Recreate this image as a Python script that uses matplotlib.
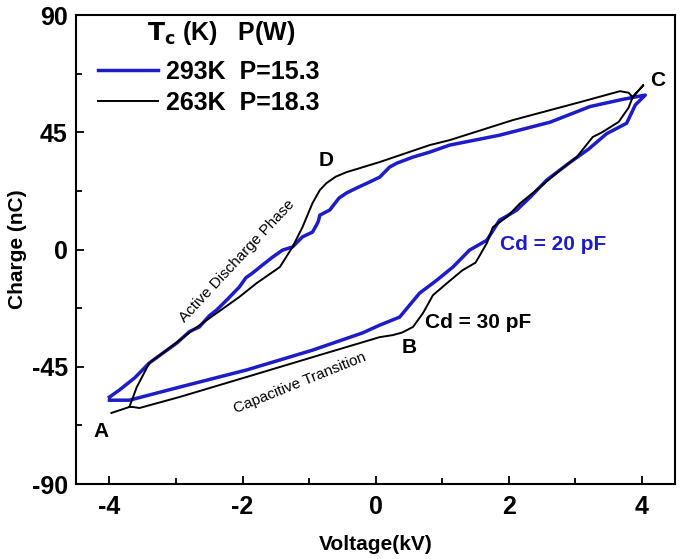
import matplotlib
matplotlib.use("Agg")
import matplotlib.pyplot as plt
from matplotlib.ticker import MultipleLocator

plt.rcParams['font.family'] = ['Liberation Sans', 'DejaVu Sans']
plt.rcParams['font.weight'] = 'bold'
plt.rcParams['axes.unicode_minus'] = False

# 293K loop (blue): voltage (kV), charge (nC)
v_293 = [-4.00, -3.85, -3.62, -3.40, -3.18, -2.99, -2.80, -2.65, -2.50, -2.39,
         -2.22, -2.05, -1.95, -1.85, -1.70, -1.55, -1.40, -1.25, -1.10, -0.95,
         -0.89, -0.86, -0.84, -0.69, -0.55, -0.44, -0.29, -0.12, 0.06, 0.21,
         0.32, 0.56, 0.81, 1.11, 1.86, 2.62, 3.22, 3.70, 4.05, 3.90,
         3.77, 3.47, 3.20, 2.92, 2.57, 2.32, 2.12, 1.98, 1.86, 1.67,
         1.41, 1.16, 0.92, 0.66, 0.36, 0.06, -0.20, -0.95, -1.94, -2.95,
         -3.70, -4.00]
q_293 = [-56.6, -53.9, -49.2, -43.5, -39.4, -35.9, -31.5, -29.7, -25.4, -23.2,
         -18.9, -14.4, -10.8, -9.0, -5.9, -2.9, -0.2, 1.0, 4.9, 6.7,
         9.4, 11.0, 13.2, 15.2, 19.8, 21.7, 23.6, 25.6, 27.8, 31.7,
         33.2, 35.5, 37.4, 40.1, 43.9, 48.9, 54.9, 57.6, 59.3, 55.5,
         48.5, 44.5, 38.6, 33.5, 26.7, 20.1, 15.2, 13.0, 11.3, 3.6,
         -0.2, -6.7, -11.7, -16.7, -25.9, -29.0, -32.0, -38.6, -46.2, -52.8,
         -57.8, -57.8]

# 263K loop (black)
v_263 = [-3.97, -3.70, -3.59, -3.40, -3.14, -2.75, -2.39, -2.05, -1.79, -1.44,
         -1.25, -1.10, -0.95, -0.84, -0.74, -0.60, -0.44, 0.06, 0.81, 1.11,
         2.06, 3.07, 3.67, 3.80, 3.86, 4.02, 3.86, 3.80, 3.65, 3.40,
         3.26, 3.02, 2.77, 2.47, 2.17, 1.97, 1.76, 1.67, 1.58, 1.50,
         1.30, 1.07, 0.86, 0.71, 0.56, 0.40, 0.26, 0.06, -0.95, -1.94,
         -2.95, -3.55, -3.65, -3.70]
q_263 = [-62.7, -60.4, -52.8, -43.5, -38.6, -30.9, -24.4, -18.2, -12.9, -6.7,
         1.0, 8.6, 17.8, 22.8, 25.5, 28.0, 29.7, 33.6, 40.1, 42.0,
         49.7, 56.6, 60.8, 60.2, 58.5, 63.1, 58.5, 54.5, 49.0, 45.0,
         43.2, 35.5, 30.5, 24.0, 17.8, 12.5, 8.6, 2.5, -1.5, -5.0,
         -8.0, -12.9, -17.5, -24.4, -29.7, -31.8, -32.8, -33.6, -41.3, -48.9,
         -56.6, -60.8, -60.4, -60.4]

blue = '#1c1cc8'

fig = plt.figure(figsize=(6.8, 5.59), dpi=100)
ax = fig.add_axes([0.112, 0.134, 0.881, 0.839])

ax.plot(v_293, q_293, color=blue, lw=2.5, label='293K  P=15.3')
ax.plot(v_263, q_263, color='black', lw=1.4, label='263K  P=18.3')

ax.set_xlim(-4.5, 4.5)
ax.set_ylim(-90, 90)
ax.xaxis.set_major_locator(MultipleLocator(2))
ax.xaxis.set_minor_locator(MultipleLocator(1))
ax.yaxis.set_major_locator(MultipleLocator(45))
ax.yaxis.set_minor_locator(MultipleLocator(22.5))
ax.tick_params(which='both', direction='in', labelsize=18, width=1.3)
ax.tick_params(which='major', length=6)
ax.tick_params(which='minor', length=4)
ax.tick_params(axis='x', pad=8)
ax.tick_params(axis='y', pad=6)
for s in ax.spines.values():
    s.set_linewidth(1.5)

ax.set_xlabel('Voltage(kV)', fontsize=15, fontweight='bold')
ax.set_ylabel('Charge (nC)', fontsize=15, fontweight='bold')
ax.xaxis.set_label_coords(0.5, -0.109)
ax.yaxis.set_label_coords(-0.082, 0.5)

# point labels
ax.text(-4.12, -70, 'A', fontsize=15, ha='center', va='center')
ax.text(0.51, -37.4, 'B', fontsize=15, ha='center', va='center')
ax.text(4.23, 65, 'C', fontsize=15, ha='center', va='center')
ax.text(-0.74, 34.3, 'D', fontsize=15, ha='center', va='center')
ax.text(0.74, -28, 'Cd = 30 pF', fontsize=15, ha='left', va='center')
ax.text(1.86, 2.1, 'Cd = 20 pF', fontsize=15, ha='left', va='center',
        color=blue)
ax.text(-2.09, -4.4, 'Active Discharge Phase', fontsize=11, fontweight='normal',
        rotation=47, ha='center', va='center')
ax.text(-1.14, -51.2, 'Capacitive Transition', fontsize=11, fontweight='normal',
        rotation=22, ha='center', va='center')

# legend, title placed as a separate text
ax.text(0.118, 0.962, r'$\mathbf{T_c}$ (K)   P(W)', transform=ax.transAxes,
        fontsize=18, ha='left', va='center')
ax.legend(loc='center left', bbox_to_anchor=(0.037, 0.846), frameon=False,
          fontsize=18, handlelength=2.4, handletextpad=0.3,
          labelspacing=0.3, borderpad=0, borderaxespad=0)

fig.savefig('out.png', dpi=100)
